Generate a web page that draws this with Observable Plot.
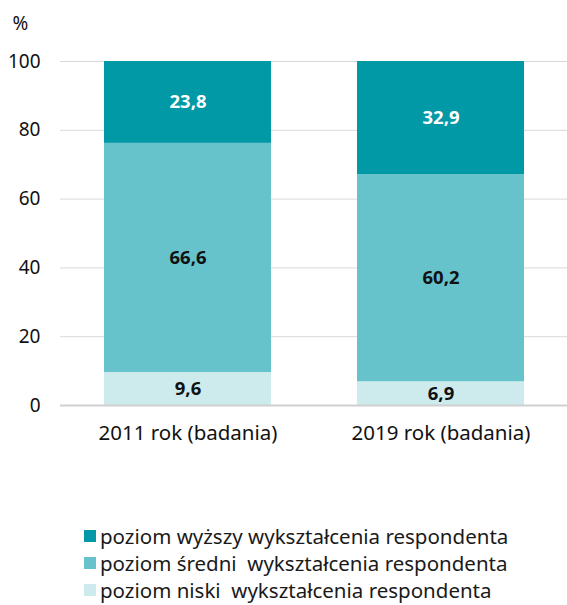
<!DOCTYPE html>
<html>
<head>
<meta charset="utf-8">
<script src="https://cdn.jsdelivr.net/npm/d3@7"></script>
<script src="https://cdn.jsdelivr.net/npm/@observablehq/plot@0.6"></script>
<style>
  body { margin: 0; background: #fff; font-family: "Noto Sans", sans-serif; }
  #legend { margin-left: 84px; margin-top: 62px; }
  .item { display: flex; align-items: center; height: 27px; font-size: 20.5px; color: #1a1a1a; }
  .sw { width: 12px; height: 12px; margin-right: 4px; }
</style>
</head>
<body>
<div id="chart"></div>
<div id="legend"></div>
<script>
const years = ["2011 rok (badania)", "2019 rok (badania)"];
const levels = ["poziom niski  wykształcenia respondenta", "poziom średni  wykształcenia respondenta", "poziom wyższy wykształcenia respondenta"];
const colors = ["#cdebed", "#66c2cb", "#0099a5"];
const labelColors = ["#111", "#111", "#fff"];
const niski = [9.6, 6.9];
const sredni = [66.6, 60.2];
const wyzszy = [23.8, 32.9];
const yTicks = [0, 20, 40, 60, 80, 100];

const series = [niski, sredni, wyzszy];
const data = [];
years.forEach((yr, i) => {
  levels.forEach((lv, j) => {
    data.push({year: yr, level: lv, value: series[j][i], j});
  });
});
const fmt = v => v.toFixed(1).replace(".", ",");

const plot = Plot.plot({
  width: 567,
  height: 460,
  marginLeft: 60,
  marginRight: 0,
  marginTop: 61,
  marginBottom: 55,
  style: {fontFamily: "Noto Sans, sans-serif", color: "#111"},
  x: {domain: years, paddingInner: 0.34, paddingOuter: 0.17},
  y: {domain: [0, 100]},
  color: {domain: levels, range: colors},
  marks: [
    Plot.gridY(yTicks, {stroke: "#d9d9d9", strokeOpacity: 1, strokeWidth: 1}),
    Plot.barY(data, {x: "year", y: "value", fill: "level", z: "level", order: levels}),
    Plot.ruleY([0], {stroke: "#d0d0d0", strokeWidth: 2}),
    Plot.axisX({label: null, tickSize: 0, tickPadding: 20, fontSize: 20.5, fill: "#111"}),
    Plot.axisY(yTicks, {label: null, tickSize: 0, tickPadding: 20, fontSize: 19, fill: "#111"}),
    Plot.text(data, Plot.stackY({x: "year", y: "value", z: "level", order: levels,
      text: d => fmt(d.value), fill: d => labelColors[d.j], fontWeight: "bold", fontSize: 18.5})),
    Plot.text(["%"], {frameAnchor: "top-left", dx: -48, dy: -45, fontSize: 19, textAnchor: "start", fill: "#111"})
  ]
});
document.getElementById("chart").appendChild(plot);

const legend = document.getElementById("legend");
[2, 1, 0].forEach(j => {
  const it = document.createElement("div");
  it.className = "item";
  const sw = document.createElement("span");
  sw.className = "sw";
  sw.style.background = colors[j];
  const tx = document.createElement("span");
  tx.textContent = levels[j];
  tx.style.whiteSpace = "pre";
  it.appendChild(sw);
  it.appendChild(tx);
  legend.appendChild(it);
});
</script>
</body>
</html>
